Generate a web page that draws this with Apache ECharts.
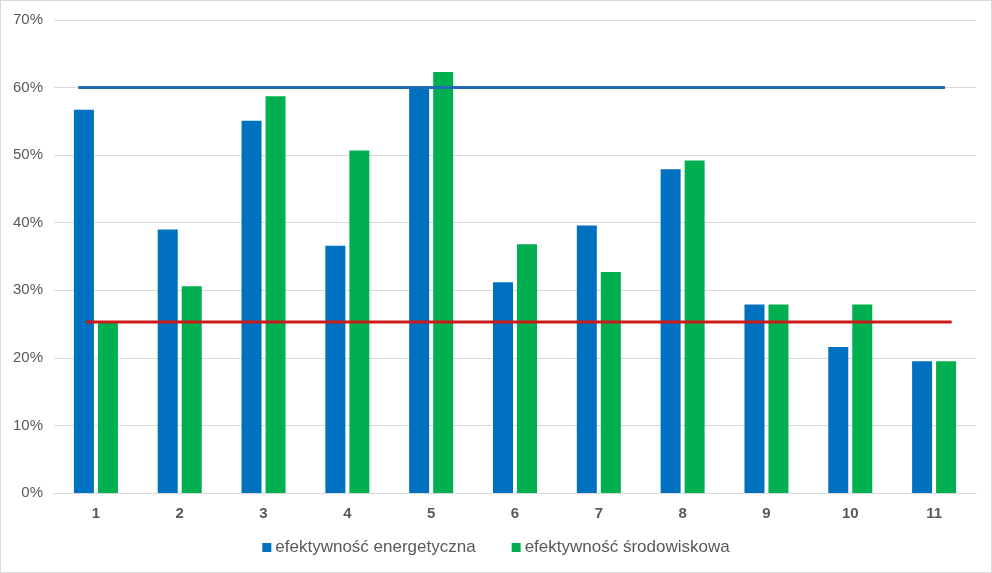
<!DOCTYPE html>
<html>
<head>
<meta charset="utf-8">
<script src="https://cdn.jsdelivr.net/npm/echarts@6/dist/echarts.min.js"></script>
<style>
html,body{margin:0;padding:0;background:#fff;}
#c{width:990px;height:571px;border:1px solid #D9D9D9;}
</style>
</head>
<body>
<div id="c"></div>
<script>
const categories = ['1','2','3','4','5','6','7','8','9','10','11'];
const energetyczna = [56.7, 39.0, 55.1, 36.6, 60.1, 31.2, 39.6, 47.9, 27.9, 21.6, 19.5];
const srodowiskowa = [25.2, 30.6, 58.7, 50.7, 62.3, 36.8, 32.7, 49.2, 27.9, 27.9, 19.5];
const yTicks = [0, 10, 20, 30, 40, 50, 60, 70];
// reference lines: level and extent along category axis (in category units, 0..11)
const blueLineLevel = 60;
const blueLineSpan = [0.29, 10.63];
const redLineLevel = 25.3;
const redLineSpan = [0.38, 10.71];

const chart = echarts.init(document.getElementById('c'));
const font = '"Liberation Sans", Arial, sans-serif';
chart.setOption({
  animation: false,
  textStyle: {fontFamily: font},
  grid: {left: 53, right: 15, top: 19, bottom: 79},
  legend: {
    data: ['efektywność energetyczna', 'efektywność środowiskowa'],
    bottom: 11, left: 'center',
    icon: 'rect', itemWidth: 9, itemHeight: 9, itemGap: 36,
    textStyle: {color: '#595959', fontSize: 17, fontFamily: font, padding: [0, 0, 0, -1]}
  },
  xAxis: [{
    type: 'category', data: categories,
    axisLine: {lineStyle: {color: '#D9D9D9'}},
    axisTick: {show: false},
    axisLabel: {color: '#595959', fontSize: 15, fontWeight: 'bold', margin: 13}
  }, {
    type: 'value', min: 0, max: 11, show: false
  }],
  yAxis: {
    type: 'value', min: 0, max: 70, interval: 10,
    axisLine: {show: false}, axisTick: {show: false},
    axisLabel: {color: '#595959', fontSize: 15, formatter: v => yTicks.includes(v) ? v + '%' : '', margin: 11},
    splitLine: {lineStyle: {color: '#D9D9D9'}}
  },
  series: [{
    name: 'efektywność energetyczna', type: 'bar', data: energetyczna,
    barWidth: 20, barGap: '20%', itemStyle: {color: '#0070C0'}
  }, {
    name: 'efektywność środowiskowa', type: 'bar', data: srodowiskowa,
    barWidth: 20, barGap: '20%', itemStyle: {color: '#00B050'}
  }, {
    name: 'blue', type: 'line', xAxisIndex: 1, symbol: 'none',
    data: blueLineSpan.map(x => [x, blueLineLevel]),
    lineStyle: {color: '#1F6DB5', width: 3}, z: 5
  }, {
    name: 'red', type: 'line', xAxisIndex: 1, symbol: 'none',
    data: redLineSpan.map(x => [x, redLineLevel]),
    lineStyle: {color: '#CC1A1A', width: 3}, z: 5
  }]
});
</script>
</body>
</html>
